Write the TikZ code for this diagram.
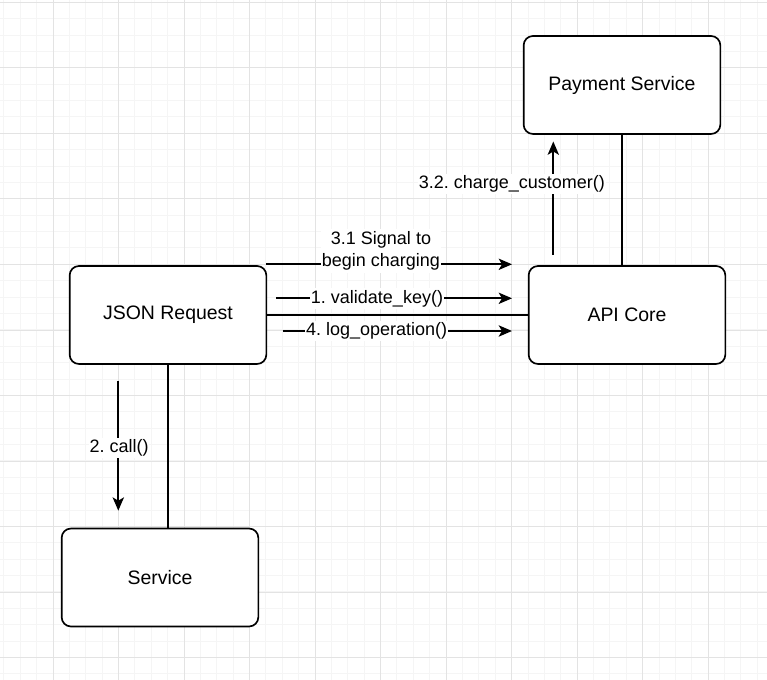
\documentclass[tikz,border=0pt]{standalone}
\usepackage{fontspec}
\setmainfont{Liberation Sans}
\usetikzlibrary{arrows.meta}
\frenchspacing

\tikzset{
  gridminor/.style={draw=black!4, line width=0.75pt},
  gridmajor/.style={draw=black!11, line width=0.75pt},
  box/.style={draw, line width=1.25pt, rounded corners=7pt, fill=white,
    minimum width=147.5pt, minimum height=73.5pt,
    font=\fontsize{14.6}{17}\selectfont},
  link/.style={line width=1.3pt},
  msg/.style={line width=1.25pt, -{Stealth[length=10pt,width=8.5pt,inset=2.5pt]}},
  lbl/.style={fill=white, inner xsep=0.5pt, inner ysep=1.5pt, align=center,
    font=\fontsize{13.5}{17}\selectfont},
}

\begin{document}
\begin{tikzpicture}[x=0.75pt, y=-0.75pt]
    \useasboundingbox (0,0) rectangle (767,680);

    % 背景网格
    \foreach \i in {0,...,46}
        \draw[gridminor] ({3.86+16.38*\i},0) -- ++(0,680);
    \foreach \i in {0,...,41}
        \draw[gridminor] (0,{2.3+16.38*\i}) -- ++(767,0);
    \foreach \i in {0,...,10}
        \draw[gridmajor] ({53+65.53*\i},0) -- ++(0,680);
    \foreach \i in {0,...,10}
        \draw[gridmajor] (0,{2.3+65.56*\i}) -- ++(767,0);

    % 方框
    \node[box] (json) at (168,315) {JSON Request};
    \node[box] (api) at (627,315) {API Core};
    \node[box] (pay) at (622,85) {Payment Service};
    \node[box] (svc) at (160,577.5) {Service};

    % 连线
    \draw[link] (json.east) -- (api.west);
    \draw[link] (json.south) -- (json.south |- svc.north);
    \draw[link] (pay.south) -- (pay.south |- api.north);

    % 消息箭头
    \coordinate (s31) at (266,264.3);
    \coordinate (e31) at (512,264.3);
    \coordinate (s1) at (276,298.3);
    \coordinate (e1) at (512,298.3);
    \coordinate (s4) at (282.7,331);
    \coordinate (e4) at (512,331);
    \coordinate (s32) at (553.3,255);
    \coordinate (e32) at (553.3,141.5);
    \coordinate (s2) at (118.3,380.7);
    \coordinate (e2) at (118.3,510.7);

    \draw[msg] (s31) -- (e31);
    \draw[msg] (s1) -- (e1);
    \draw[msg] (s4) -- (e4);
    \draw[msg] (s32) -- (e32);
    \draw[msg] (s2) -- (e2);

    \node[lbl] (l31) at (381,251) {3.1 Signal to\\begin charging};
    \node[lbl] (l1) at (377,298.5) {1. validate\_key()};
    \node[lbl] (l4) at (376.7,331) {4. log\_operation()};
    \node[lbl] (l32) at (511.8,184) {3.2. charge\_customer()};
    \node[lbl] (l2) at (119.2,448) {2. call()};
\end{tikzpicture}
\end{document}
